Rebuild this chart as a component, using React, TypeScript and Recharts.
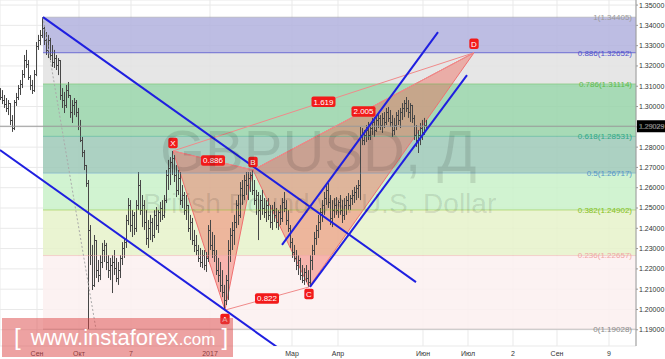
import React from 'react';
import {
  ComposedChart,
  Bar,
  XAxis,
  YAxis,
  CartesianGrid,
  ReferenceArea,
  ReferenceLine,
  ReferenceDot,
} from 'recharts';

// ---------- daily OHLC bars (GBPUSD) ----------
const opens = [
  1.3072, 1.3047, 1.3032, 1.3012, 1.2993, 1.3017, 1.2934, 1.2894, 1.3022, 1.3047,
  1.3091, 1.3111, 1.3160, 1.3229, 1.3210, 1.3146, 1.3106, 1.3081, 1.3160, 1.3298,
  1.3328, 1.3353, 1.3387, 1.3328, 1.3279, 1.3328, 1.3254, 1.3219, 1.3239, 1.3205,
  1.3229, 1.3057, 1.3032, 1.3008, 1.3081, 1.3057, 1.2973, 1.3008, 1.3022, 1.2973,
  1.2904, 1.2835, 1.2776, 1.2712, 1.2623, 1.2392, 1.2268, 1.2121, 1.2342, 1.2194,
  1.2170, 1.2234, 1.2293, 1.2318, 1.2234, 1.2194, 1.2219, 1.2234, 1.2204, 1.2155,
  1.2194, 1.2254, 1.2303, 1.2332, 1.2441, 1.2515, 1.2416, 1.2466, 1.2401, 1.2515,
  1.2613, 1.2490, 1.2515, 1.2431, 1.2352, 1.2401, 1.2431, 1.2367, 1.2466, 1.2416,
  1.2480, 1.2500, 1.2466, 1.2539, 1.2663, 1.2697, 1.2727, 1.2746, 1.2663, 1.2589,
  1.2648, 1.2539, 1.2564, 1.2490, 1.2515, 1.2401, 1.2431, 1.2342, 1.2318, 1.2293,
  1.2254, 1.2234, 1.2268, 1.2219, 1.2254, 1.2392, 1.2318, 1.2293, 1.2268, 1.2194,
  1.2170, 1.2121, 1.2086, 1.2047, 1.2145, 1.2293, 1.2367, 1.2392, 1.2431, 1.2515,
  1.2466, 1.2599, 1.2564, 1.2638, 1.2613, 1.2648, 1.2663, 1.2589, 1.2539, 1.2564,
  1.2490, 1.2539, 1.2500, 1.2480, 1.2515, 1.2466, 1.2431, 1.2490, 1.2466, 1.2431,
  1.2480, 1.2451, 1.2530, 1.2500, 1.2441, 1.2401, 1.2332, 1.2283, 1.2254, 1.2219,
  1.2244, 1.2170, 1.2145, 1.2185, 1.2155, 1.2135, 1.2244, 1.2293, 1.2352, 1.2392,
  1.2431, 1.2480, 1.2515, 1.2549, 1.2589, 1.2530, 1.2451, 1.2490, 1.2515, 1.2490,
  1.2530, 1.2490, 1.2466, 1.2515, 1.2539, 1.2515, 1.2549, 1.2564, 1.2579, 1.2599,
  1.2613, 1.2860, 1.2835, 1.2860, 1.2884, 1.2860, 1.2894, 1.2924, 1.2884, 1.2934,
  1.2944, 1.2909, 1.2944, 1.2924, 1.2973, 1.2944, 1.2924, 1.2884, 1.2909, 1.2958,
  1.2934, 1.2973, 1.2993, 1.3017, 1.2993, 1.2973, 1.3008, 1.2944, 1.2860, 1.2835,
  1.2860, 1.2894, 1.2875, 1.2909,
];
const highs = [
  1.3091, 1.3081, 1.3057, 1.3042, 1.3032, 1.3017, 1.2958, 1.3032, 1.3067, 1.3106,
  1.3131, 1.3180, 1.3254, 1.3279, 1.3229, 1.3155, 1.3131, 1.3180, 1.3318, 1.3353,
  1.3377, 1.34405, 1.3402, 1.3367, 1.3353, 1.3338, 1.3303, 1.3279, 1.3254, 1.3239,
  1.3229, 1.3091, 1.3072, 1.3106, 1.3121, 1.3057, 1.3032, 1.3042, 1.3032, 1.2993,
  1.2934, 1.2850, 1.2786, 1.2712, 1.2638, 1.2416, 1.2318, 1.2367, 1.2342, 1.2244,
  1.2268, 1.2328, 1.2342, 1.2328, 1.2268, 1.2254, 1.2268, 1.2293, 1.2254, 1.2234,
  1.2268, 1.2332, 1.2352, 1.2466, 1.2549, 1.2539, 1.2490, 1.2480, 1.2539, 1.2677,
  1.2638, 1.2564, 1.2539, 1.2490, 1.2441, 1.2466, 1.2451, 1.2490, 1.2505, 1.2490,
  1.2530, 1.2539, 1.2564, 1.2687, 1.2737, 1.2751, 1.2781, 1.2761, 1.2712, 1.2687,
  1.2677, 1.2613, 1.2579, 1.2564, 1.2515, 1.2466, 1.2451, 1.2392, 1.2367, 1.2318,
  1.2303, 1.2293, 1.2293, 1.2283, 1.2416, 1.2441, 1.2382, 1.2367, 1.2293, 1.2254,
  1.2234, 1.2194, 1.2121, 1.2170, 1.2342, 1.2401, 1.2431, 1.2466, 1.2539, 1.2564,
  1.2628, 1.2638, 1.2663, 1.2677, 1.2677, 1.2677, 1.2687, 1.2638, 1.2589, 1.2579,
  1.2564, 1.2589, 1.2549, 1.2539, 1.2549, 1.2515, 1.2515, 1.2530, 1.2500, 1.2490,
  1.2515, 1.2549, 1.2579, 1.2539, 1.2490, 1.2416, 1.2352, 1.2318, 1.2293, 1.2268,
  1.2254, 1.2219, 1.2204, 1.2219, 1.2194, 1.2268, 1.2318, 1.2382, 1.2416, 1.2466,
  1.2500, 1.2539, 1.2579, 1.2613, 1.2623, 1.2564, 1.2539, 1.2549, 1.2554, 1.2539,
  1.2564, 1.2539, 1.2549, 1.2559, 1.2574, 1.2564, 1.2589, 1.2604, 1.2613, 1.2638,
  1.2899, 1.2894, 1.2884, 1.2909, 1.2924, 1.2909, 1.2944, 1.2948, 1.2958, 1.2968,
  1.2958, 1.2968, 1.2973, 1.2993, 1.2998, 1.2983, 1.2958, 1.2944, 1.2973, 1.2983,
  1.2993, 1.3017, 1.3032, 1.3047, 1.3032, 1.3017, 1.3008, 1.2958, 1.2909, 1.2884,
  1.2919, 1.2934, 1.2944, 1.2934,
];
const lows = [
  1.3032, 1.3012, 1.2993, 1.2973, 1.2958, 1.2909, 1.2875, 1.2884, 1.3003, 1.3032,
  1.3057, 1.3091, 1.3141, 1.3190, 1.3131, 1.3081, 1.3062, 1.3072, 1.3150, 1.3279,
  1.3303, 1.3338, 1.3303, 1.3254, 1.3239, 1.3229, 1.3195, 1.3190, 1.3180, 1.3155,
  1.3032, 1.2993, 1.2968, 1.2993, 1.3042, 1.2944, 1.2919, 1.2958, 1.2948, 1.2884,
  1.2825, 1.2751, 1.2687, 1.2604, 1.19028, 1.2219, 1.2096, 1.2111, 1.2155, 1.2135,
  1.2145, 1.2204, 1.2234, 1.2194, 1.2155, 1.2145, 1.2081, 1.2170, 1.2135, 1.2121,
  1.2155, 1.2219, 1.2254, 1.2303, 1.2416, 1.2382, 1.2357, 1.2367, 1.2382, 1.2490,
  1.2466, 1.2406, 1.2392, 1.2318, 1.2303, 1.2342, 1.2332, 1.2352, 1.2392, 1.2377,
  1.2431, 1.2441, 1.2451, 1.2525, 1.2589, 1.2613, 1.2663, 1.2628, 1.2554, 1.2564,
  1.2515, 1.2500, 1.2466, 1.2441, 1.2382, 1.2342, 1.2318, 1.2283, 1.2268, 1.2234,
  1.2209, 1.2204, 1.2194, 1.2185, 1.2234, 1.2293, 1.2254, 1.2234, 1.2170, 1.2135,
  1.2086, 1.2061, 1.1997, 1.2022, 1.2047, 1.2234, 1.2293, 1.2318, 1.2401, 1.2416,
  1.2451, 1.2515, 1.2539, 1.2564, 1.2539, 1.2579, 1.2564, 1.2515, 1.2466, 1.2342,
  1.2441, 1.2466, 1.2451, 1.2431, 1.2441, 1.2401, 1.2392, 1.2431, 1.2401, 1.2392,
  1.2416, 1.2431, 1.2480, 1.2416, 1.2382, 1.2303, 1.2254, 1.2234, 1.2194, 1.2170,
  1.2145, 1.2130, 1.2121, 1.2135, 1.2111, 1.2121, 1.2194, 1.2268, 1.2318, 1.2352,
  1.2392, 1.2431, 1.2466, 1.2515, 1.2500, 1.2416, 1.2406, 1.2451, 1.2466, 1.2451,
  1.2466, 1.2426, 1.2441, 1.2466, 1.2490, 1.2490, 1.2515, 1.2525, 1.2539, 1.2549,
  1.2539, 1.2810, 1.2810, 1.2825, 1.2835, 1.2835, 1.2860, 1.2850, 1.2875, 1.2894,
  1.2884, 1.2870, 1.2894, 1.2909, 1.2924, 1.2899, 1.2850, 1.2860, 1.2884, 1.2909,
  1.2894, 1.2934, 1.2948, 1.2973, 1.2944, 1.2924, 1.2919, 1.2835, 1.2801, 1.2771,
  1.2810, 1.2835, 1.2860, 1.2884,
];
const closes = [
  1.3047, 1.3032, 1.3012, 1.2993, 1.3017, 1.2934, 1.2894, 1.3022, 1.3047, 1.3091,
  1.3111, 1.3160, 1.3229, 1.3210, 1.3146, 1.3106, 1.3081, 1.3160, 1.3298, 1.3328,
  1.3353, 1.3387, 1.3328, 1.3279, 1.3328, 1.3254, 1.3219, 1.3239, 1.3205, 1.3229,
  1.3057, 1.3032, 1.3008, 1.3081, 1.3057, 1.2973, 1.3008, 1.3022, 1.2973, 1.2904,
  1.2835, 1.2776, 1.2712, 1.2623, 1.2392, 1.2268, 1.2121, 1.2342, 1.2194, 1.2170,
  1.2234, 1.2293, 1.2318, 1.2234, 1.2194, 1.2219, 1.2234, 1.2204, 1.2155, 1.2194,
  1.2254, 1.2303, 1.2332, 1.2441, 1.2515, 1.2416, 1.2466, 1.2401, 1.2515, 1.2613,
  1.2490, 1.2515, 1.2431, 1.2352, 1.2401, 1.2431, 1.2367, 1.2466, 1.2416, 1.2480,
  1.2500, 1.2466, 1.2539, 1.2663, 1.2697, 1.2727, 1.2746, 1.2663, 1.2589, 1.2648,
  1.2539, 1.2564, 1.2490, 1.2515, 1.2401, 1.2431, 1.2342, 1.2318, 1.2293, 1.2254,
  1.2234, 1.2268, 1.2219, 1.2254, 1.2392, 1.2318, 1.2293, 1.2268, 1.2194, 1.2170,
  1.2121, 1.2086, 1.2047, 1.2145, 1.2293, 1.2367, 1.2392, 1.2431, 1.2515, 1.2466,
  1.2599, 1.2564, 1.2638, 1.2613, 1.2648, 1.2663, 1.2589, 1.2539, 1.2564, 1.2490,
  1.2539, 1.2500, 1.2480, 1.2515, 1.2466, 1.2431, 1.2490, 1.2466, 1.2431, 1.2480,
  1.2451, 1.2530, 1.2500, 1.2441, 1.2401, 1.2332, 1.2283, 1.2254, 1.2219, 1.2244,
  1.2170, 1.2145, 1.2185, 1.2155, 1.2135, 1.2244, 1.2293, 1.2352, 1.2392, 1.2431,
  1.2480, 1.2515, 1.2549, 1.2589, 1.2530, 1.2451, 1.2490, 1.2515, 1.2490, 1.2530,
  1.2490, 1.2466, 1.2515, 1.2539, 1.2515, 1.2549, 1.2564, 1.2579, 1.2599, 1.2613,
  1.2860, 1.2835, 1.2860, 1.2884, 1.2860, 1.2894, 1.2924, 1.2884, 1.2934, 1.2944,
  1.2909, 1.2944, 1.2924, 1.2973, 1.2944, 1.2924, 1.2884, 1.2909, 1.2958, 1.2934,
  1.2973, 1.2993, 1.3017, 1.2993, 1.2973, 1.3008, 1.2944, 1.2860, 1.2835, 1.2860,
  1.2894, 1.2875, 1.2909, 1.29029,
];

// ---------- axes ----------
const SLOT_COUNT = 318; // day slots across the whole plot (incl. empty future)
const xTickPositions = [18, 39, 65, 104.5, 145.5, 168.5, 211, 233.5, 256, 278, 304];
const xTickLabels = ['Сен', 'Окт', '7', '2017', 'Мар', 'Апр', 'Июн', 'Июл', '2', 'Сен', '9'];
const yTicks = [1.19, 1.2, 1.21, 1.22, 1.23, 1.24, 1.25, 1.26, 1.27, 1.28, 1.29, 1.3, 1.31, 1.32, 1.33, 1.34, 1.35];
const yDomain = [1.182, 1.3525];

// ---------- fibonacci retracement ----------
const fibLevels = [1, 0.886, 0.786, 0.618, 0.5, 0.382, 0.236, 0];
const fibPrices = [1.34405, 1.32652, 1.31114, 1.28531, 1.26717, 1.24902, 1.22657, 1.19028];
const fibStart = 21;
const fibTrendIndex = [21, 47.5];
const fibTrendPrice = [1.34405, 1.19028];

const lastPrice = 1.29029;

// ---------- harmonic pattern ----------
const patternNames = ['X', 'A', 'B', 'C', 'D'];
const patternIndex = [86, 112, 126, 154, 236.5];
const patternPrices = [1.2781, 1.1997, 1.2687, 1.2111, 1.32652];
const ratioLabels = ['0.886', '0.822', '1.619', '2.005'];
const ratioFrom = [0, 1, 0, 2];
const ratioTo = [2, 3, 4, 4];

// ---------- trend channels ----------
const trendStartIndex = [21, -0.5, 140.5, 154.5];
const trendStartPrice = [1.34405, 1.2786, 1.2318, 1.2111];
const trendEndIndex = [207.5, 138, 218.5, 233];
const trendEndPrice = [1.2135, 1.1815, 1.3367, 1.3155];

// ---------- styles ----------
const FONT = '"Liberation Sans", Arial, sans-serif';
const bandFills = ['#b1b1de', '#e2e2e2', '#98d3a9', '#9ec9b7', '#c9f1c9', '#e6f2ca', '#fcf0f0'];
const levelColors = ['#9a9a9a', '#5050cc', '#5cbb4c', '#2ea886', '#5596c8', '#84c01c', '#f0a4a4', '#8a8a8a'];
const tagOffsets = [-8, 9, -8, 7, -9];

const chartData = Array.from({ length: SLOT_COUNT }, (_, i) =>
  i < highs.length
    ? { i, range: [lows[i], highs[i]], o: opens[i], h: highs[i], l: lows[i], c: closes[i] }
    : { i, range: null }
);

const OhlcShape = (props: any) => {
  const { x, y, width, height, payload } = props;
  if (!payload || payload.h == null || x == null) return null;
  const top = Math.min(y, y + height);
  const bot = Math.max(y, y + height);
  const span = payload.h - payload.l || 1e-9;
  const py = (p: number) => Math.round(top + ((payload.h - p) / span) * (bot - top)) + 0.5;
  const cx = Math.floor(x + width / 2) + 0.5;
  const col = '#474747';
  return (
    <g>
      <line x1={cx} x2={cx} y1={top} y2={Math.max(bot, top + 1)} stroke={col} strokeWidth={1} />
      <line x1={cx - 1.5} x2={cx} y1={py(payload.o)} y2={py(payload.o)} stroke={col} strokeWidth={1} />
      <line x1={cx} x2={cx + 1.5} y1={py(payload.c)} y2={py(payload.c)} stroke={col} strokeWidth={1} />
    </g>
  );
};

const XTick = (props: any) => {
  const { x, payload } = props;
  const label = xTickLabels[xTickPositions.indexOf(payload.value)] ?? '';
  return (
    <text x={x} y={355.5} textAnchor="middle" fontSize={7} fill="#333" fontFamily={FONT}>
      {label}
    </text>
  );
};

const textWidth = (t: string, fs: number) => {
  let w = 0;
  for (const ch of t) w += ch === '.' ? 0.278 : /[0-9]/.test(ch) ? 0.556 : 0.667;
  return w * fs;
};

const tagShape = (text: string, dy: number, fs: number) => (p: any) => {
  const w = textWidth(text, fs) + 4;
  const h = fs + 2.5;
  return (
    <g>
      <rect x={p.cx - w / 2} y={p.cy + dy - h / 2} width={w} height={h} rx={2} fill="#f21a1a" />
      <text x={p.cx} y={p.cy + dy} dy="0.35em" textAnchor="middle" fill="#fff" fontSize={fs} fontFamily={FONT}>
        {text}
      </text>
    </g>
  );
};

const triangleShape = (pts: number[][]) => (p: any) => {
  const xs = pts.map((q) => q[0]);
  const ys = pts.map((q) => q[1]);
  const x1 = Math.min(...xs), x2 = Math.max(...xs);
  const yLo = Math.min(...ys), yHi = Math.max(...ys);
  const poly = pts
    .map(([vx, vy]) => `${p.x + ((vx - x1) / (x2 - x1)) * p.width},${p.y + ((yHi - vy) / (yHi - yLo)) * p.height}`)
    .join(' ');
  return <polygon points={poly} fill="#f06050" fillOpacity={0.42} stroke="#f07070" strokeWidth={1} />;
};

const priceTagShape = (p: any) => (
  <g>
    <rect x={p.cx + 1} y={p.cy - 6} width={29} height={12} fill="#000" />
    <text x={p.cx + 3} y={p.cy} dy="0.35em" fill="#fff" fontSize={7} fontFamily={FONT}>
      {lastPrice.toFixed(5)}
    </text>
  </g>
);

const triangles = [
  [0, 1, 2],
  [2, 3, 4],
];

export default function App() {
  return (
    <div style={{ position: 'absolute', left: 0, top: 0, width: 665, height: 359, background: '#fff', fontFamily: FONT }}>
      <ComposedChart width={665} height={359} data={chartData} margin={{ top: 0, right: 0, bottom: 0, left: 0 }}>
        <CartesianGrid xAxisId="num" stroke="#e9e9e9" />
        <XAxis xAxisId="cat" dataKey="i" type="category" hide />
        <XAxis
          xAxisId="num"
          dataKey="i"
          type="number"
          domain={[-0.5, SLOT_COUNT - 0.5]}
          allowDataOverflow
          ticks={xTickPositions}
          interval={0}
          height={13}
          tickSize={2}
          tick={<XTick />}
          axisLine={{ stroke: '#999' }}
          tickLine={{ stroke: '#999' }}
        />
        <YAxis
          orientation="right"
          type="number"
          domain={yDomain}
          allowDataOverflow
          ticks={yTicks}
          interval={0}
          width={29}
          tickSize={2}
          tickMargin={1}
          tickFormatter={(v: number) => v.toFixed(5)}
          tick={{ fontSize: 7, fill: '#333', fontFamily: FONT }}
          axisLine={{ stroke: '#999' }}
          tickLine={{ stroke: '#999' }}
        />

        {bandFills.map((fill, k) => (
          <ReferenceArea
            key={`band${k}`}
            xAxisId="num"
            x1={fibStart}
            x2={SLOT_COUNT - 0.5}
            y1={fibPrices[k + 1]}
            y2={fibPrices[k]}
            fill={fill}
            fillOpacity={0.85}
            stroke="none"
            ifOverflow="hidden"
          />
        ))}

        {fibPrices.map((p, k) => (
          <ReferenceLine
            key={`fib${k}`}
            xAxisId="num"
            segment={[
              { x: fibStart, y: p },
              { x: SLOT_COUNT - 0.5, y: p },
            ]}
            stroke={levelColors[k]}
            strokeOpacity={k === 1 ? 0.8 : 0.45}
            strokeWidth={1}
            ifOverflow="visible"
            label={{
              value: `${fibLevels[k]}(${p.toFixed(5)})`,
              position: 'insideRight',
              offset: 4,
              fill: levelColors[k],
              fontSize: 8,
              fontFamily: FONT,
            }}
          />
        ))}

        <ReferenceLine xAxisId="num" y={lastPrice} stroke="#9a9a9a" strokeWidth={1} />

        <ReferenceLine
          xAxisId="num"
          segment={[
            { x: fibTrendIndex[0], y: fibTrendPrice[0] },
            { x: fibTrendIndex[1], y: fibTrendPrice[1] },
          ]}
          stroke="#aaa"
          strokeDasharray="2 2"
          ifOverflow="hidden"
        />

        {triangles.map((tri, k) => {
          const pts = tri.map((j) => [patternIndex[j], patternPrices[j]]);
          const xs = pts.map((q) => q[0]);
          const ys = pts.map((q) => q[1]);
          return (
            <ReferenceArea
              key={`tri${k}`}
              xAxisId="num"
              x1={Math.min(...xs)}
              x2={Math.max(...xs)}
              y1={Math.min(...ys)}
              y2={Math.max(...ys)}
              ifOverflow="visible"
              shape={triangleShape(pts)}
            />
          );
        })}

        {ratioFrom.map((a, k) => (
          <ReferenceLine
            key={`ratio${k}`}
            xAxisId="num"
            segment={[
              { x: patternIndex[a], y: patternPrices[a] },
              { x: patternIndex[ratioTo[k]], y: patternPrices[ratioTo[k]] },
            ]}
            stroke="#f08a8a"
            strokeWidth={1}
            ifOverflow="visible"
          />
        ))}

        <Bar xAxisId="cat" dataKey="range" barSize={2} shape={OhlcShape} isAnimationActive={false} />

        {trendStartIndex.map((s, k) => (
          <ReferenceLine
            key={`trend${k}`}
            xAxisId="num"
            segment={[
              { x: s, y: trendStartPrice[k] },
              { x: trendEndIndex[k], y: trendEndPrice[k] },
            ]}
            stroke="#1f1fe0"
            strokeWidth={2}
            ifOverflow="hidden"
          />
        ))}

        {ratioFrom.map((a, k) => (
          <ReferenceDot
            key={`rl${k}`}
            xAxisId="num"
            x={(patternIndex[a] + patternIndex[ratioTo[k]]) / 2}
            y={(patternPrices[a] + patternPrices[ratioTo[k]]) / 2}
            r={0}
            ifOverflow="visible"
            shape={tagShape(ratioLabels[k], 0, 8)}
          />
        ))}

        {patternNames.map((n, k) => (
          <ReferenceDot
            key={`pt${k}`}
            xAxisId="num"
            x={patternIndex[k]}
            y={patternPrices[k]}
            r={0}
            ifOverflow="visible"
            shape={tagShape(n, tagOffsets[k], 8)}
          />
        ))}

        <ReferenceDot
          xAxisId="num"
          x={SLOT_COUNT - 0.5}
          y={lastPrice}
          r={0}
          ifOverflow="visible"
          shape={priceTagShape}
        />
      </ComposedChart>

      <svg width={665} height={359} style={{ position: 'absolute', left: 0, top: 0, pointerEvents: 'none' }}>
        <text x={160} y={171} fontSize={58} fontFamily={FONT} fill="#000" fillOpacity={0.11}>
          GBPUSD, Д
        </text>
        <text x={143} y={213} fontSize={28} fontFamily={FONT} fill="#000" fillOpacity={0.11}>
          British Pound vs. U.S. Dollar
        </text>
        <rect x={2} y={318} width={231} height={39} fill="#dc4646" fillOpacity={0.5} />
        <text x={14} y={345} fill="#fff" fontFamily={FONT}>
          <tspan fontSize={24}>[</tspan>
          <tspan dx={10} fontSize={22}>www.instaforex</tspan>
          <tspan fontSize={17}>.com</tspan>
          <tspan dx={6} fontSize={24}>]</tspan>
        </text>
      </svg>
    </div>
  );
}
